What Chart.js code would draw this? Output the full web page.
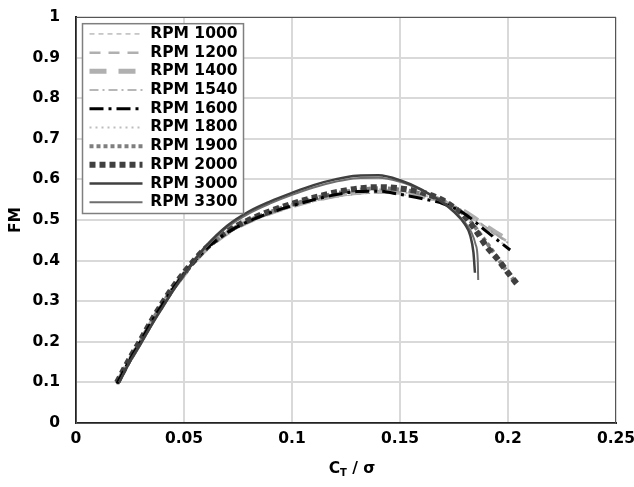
<!DOCTYPE html>
<html>
<head>
<meta charset="utf-8">
<script src="https://cdn.jsdelivr.net/npm/chart.js@4.4.1/dist/chart.umd.min.js"></script>
<style>
    html, body { margin: 0; padding: 0; background: #fff; }
    #wrap { width: 634px; height: 487px; }
</style>
</head>
<body>
<div id="wrap"><canvas id="chartFM" width="634" height="487"></canvas></div>
<script>
// valores (CT/sigma x FM)
const rpmLabels = ['RPM 1000', 'RPM 1200', 'RPM 1400', 'RPM 1540', 'RPM 1600', 'RPM 1800', 'RPM 1900', 'RPM 2000', 'RPM 3000', 'RPM 3300'];

const ctLow = [0.019, 0.025, 0.03, 0.035, 0.04, 0.045, 0.05, 0.055, 0.06, 0.07, 0.08, 0.09, 0.1, 0.11, 0.12, 0.13, 0.14, 0.15, 0.16, 0.17, 0.18, 0.19, 0.2];
const fm1000 = [0.095, 0.153, 0.198, 0.245, 0.288, 0.328, 0.363, 0.396, 0.424, 0.465, 0.493, 0.514, 0.531, 0.545, 0.556, 0.563, 0.566, 0.563, 0.555, 0.540, 0.515, 0.478, 0.443];
const fm1200 = [0.096, 0.155, 0.2, 0.247, 0.29, 0.33, 0.365, 0.398, 0.426, 0.467, 0.495, 0.516, 0.533, 0.547, 0.558, 0.565, 0.568, 0.565, 0.557, 0.542, 0.517, 0.480, 0.446];
const fm1400 = [0.097, 0.156, 0.201, 0.248, 0.291, 0.331, 0.366, 0.399, 0.427, 0.468, 0.497, 0.518, 0.535, 0.549, 0.56, 0.568, 0.571, 0.568, 0.559, 0.544, 0.52, 0.484, 0.45];
const fm1540 = [0.096, 0.155, 0.2, 0.246, 0.289, 0.329, 0.364, 0.397, 0.425, 0.466, 0.494, 0.516, 0.534, 0.549, 0.561, 0.569, 0.572, 0.569, 0.56, 0.545, 0.52, 0.482, 0.444];
const fm1800 = [0.096, 0.156, 0.201, 0.248, 0.291, 0.331, 0.366, 0.399, 0.427, 0.468, 0.497, 0.519, 0.537, 0.552, 0.564, 0.572, 0.575, 0.572, 0.562, 0.546, 0.52, 0.478, 0.43];

const ct1600 = [0.019, 0.025, 0.03, 0.035, 0.04, 0.045, 0.05, 0.055, 0.06, 0.07, 0.08, 0.09, 0.1, 0.11, 0.12, 0.13, 0.14, 0.15, 0.16, 0.17, 0.18, 0.19, 0.201];
const fm1600 = [0.097, 0.157, 0.202, 0.249, 0.292, 0.332, 0.367, 0.4, 0.428, 0.469, 0.497, 0.518, 0.535, 0.55, 0.562, 0.57, 0.571, 0.563, 0.553, 0.54, 0.515, 0.472, 0.426];

const ct1900 = [0.019, 0.025, 0.03, 0.035, 0.04, 0.045, 0.05, 0.055, 0.06, 0.07, 0.08, 0.09, 0.1, 0.11, 0.12, 0.13, 0.14, 0.15, 0.16, 0.17, 0.18, 0.19, 0.2, 0.203];
const fm1900 = [0.098, 0.158, 0.203, 0.25, 0.293, 0.333, 0.368, 0.4, 0.428, 0.47, 0.498, 0.52, 0.538, 0.553, 0.565, 0.574, 0.578, 0.575, 0.565, 0.547, 0.512, 0.445, 0.37, 0.35];

const ct2000 = [0.019, 0.025, 0.03, 0.035, 0.04, 0.045, 0.05, 0.055, 0.06, 0.07, 0.08, 0.09, 0.1, 0.11, 0.12, 0.13, 0.14, 0.15, 0.16, 0.17, 0.175, 0.18, 0.185, 0.19, 0.195, 0.2, 0.205];
const fm2000 = [0.1, 0.16, 0.205, 0.252, 0.295, 0.335, 0.37, 0.402, 0.43, 0.472, 0.5, 0.522, 0.54, 0.555, 0.568, 0.577, 0.581, 0.578, 0.568, 0.548, 0.53, 0.508, 0.475, 0.435, 0.405, 0.37, 0.337];

const ct3000 = [0.02, 0.025, 0.03, 0.035, 0.04, 0.045, 0.05, 0.055, 0.06, 0.07, 0.08, 0.09, 0.1, 0.11, 0.12, 0.13, 0.14, 0.15, 0.16, 0.17, 0.175, 0.18, 0.1825, 0.184, 0.1847];
const fm3000 = [0.1, 0.152, 0.196, 0.242, 0.285, 0.327, 0.366, 0.402, 0.435, 0.486, 0.521, 0.546, 0.567, 0.586, 0.6, 0.609, 0.61, 0.598, 0.575, 0.542, 0.52, 0.49, 0.462, 0.42, 0.37];

const ct3300 = [0.02, 0.025, 0.03, 0.035, 0.04, 0.045, 0.05, 0.055, 0.06, 0.07, 0.08, 0.09, 0.1, 0.11, 0.12, 0.13, 0.14, 0.15, 0.16, 0.17, 0.175, 0.18, 0.183, 0.185, 0.186, 0.1862];
const fm3300 = [0.1, 0.15, 0.194, 0.24, 0.283, 0.325, 0.364, 0.4, 0.432, 0.482, 0.516, 0.541, 0.562, 0.58, 0.594, 0.603, 0.604, 0.594, 0.573, 0.543, 0.522, 0.494, 0.47, 0.44, 0.4, 0.352];

const xTicks = [0, 0.05, 0.1, 0.15, 0.2, 0.25];
const yTicks = [0, 0.1, 0.2, 0.3, 0.4, 0.5, 0.6, 0.7, 0.8, 0.9, 1];

const fonte = 'DejaVu Sans';

const pontos = (xs, ys) => xs.map((x, i) => ({ x: x, y: ys[i] }));

const serie = (label, xs, ys, cor, largura, traco, ordem) => ({
    label: label,
    data: pontos(xs, ys),
    borderColor: cor,
    backgroundColor: cor,
    borderWidth: largura,
    borderDash: traco,
    showLine: true,
    pointRadius: 0,
    pointHoverRadius: 0,
    pointStyle: 'line',
    cubicInterpolationMode: 'monotone',
    order: ordem
});

const datasets = [
    serie(rpmLabels[0], ctLow, fm1000, '#9a9a9a', 1, [5, 4], 8),
    serie(rpmLabels[1], ctLow, fm1200, '#b0b0b0', 2.5, [11, 8], 7),
    serie(rpmLabels[2], ctLow, fm1400, '#b0b0b0', 5, [17, 12], 9),
    serie(rpmLabels[3], ctLow, fm1540, '#a0a0a0', 1.5, [9, 4, 2, 4], 6),
    serie(rpmLabels[4], ct1600, fm1600, '#000000', 3, [14, 5, 3, 5], 2),
    serie(rpmLabels[5], ctLow, fm1800, '#bdbdbd', 2, [2, 4], 5),
    serie(rpmLabels[6], ct1900, fm1900, '#7f7f7f', 4, [4, 3], 4),
    serie(rpmLabels[7], ct2000, fm2000, '#404040', 6, [6, 4], 3),
    serie(rpmLabels[8], ct3000, fm3000, '#404040', 2.5, [], 0),
    serie(rpmLabels[9], ct3300, fm3300, '#6e6e6e', 2, [], 1)
];

// legenda com o traco de cada serie
const gerarLegenda = (chart) => {
    const itens = Chart.defaults.plugins.legend.labels.generateLabels(chart);
    return itens.map(item => {
        const ds = chart.data.datasets[item.datasetIndex];
        item.lineDash = ds.borderDash;
        item.lineWidth = ds.borderWidth;
        item.strokeStyle = ds.borderColor;
        item.fillStyle = ds.borderColor;
        item.pointStyle = 'line';
        item.lineCap = 'butt';
        return item;
    });
};

// caixa branca com borda atras da legenda + borda da area do grafico
const pluginMoldura = {
    id: 'moldura',
    afterLayout(chart) {
        const leg = chart.legend;
        leg.left = chart.chartArea.left + 10.3;
        leg.top = chart.chartArea.top + 6;
    },
    afterDatasetsDraw(chart) {
        const { ctx, chartArea } = chart;
        ctx.save();
        ctx.strokeStyle = '#555';
        ctx.lineWidth = 1;
        ctx.strokeRect(chartArea.left + 0.5, chartArea.top + 0.5, chartArea.right - chartArea.left - 1, chartArea.bottom - chartArea.top);

        const boxes = chart.legend.legendHitBoxes;
        if (boxes && boxes.length) {
            const x0 = Math.min(...boxes.map(b => b.left)) - 7;
            const y0 = Math.min(...boxes.map(b => b.top)) - 2.5;
            const x1 = Math.max(...boxes.map(b => b.left + b.width)) + 6;
            const y1 = Math.max(...boxes.map(b => b.top + b.height)) + 3.5;
            ctx.fillStyle = '#fff';
            ctx.fillRect(x0, y0, x1 - x0, y1 - y0);
            ctx.strokeStyle = '#7f7f7f';
            ctx.lineWidth = 1.5;
            ctx.strokeRect(x0, y0, x1 - x0, y1 - y0);
        }
        ctx.restore();
        chart.legend.draw();
    },
    afterDraw(chart) {
        const { ctx, chartArea } = chart;
        ctx.save();
        ctx.fillStyle = '#000';
        // titulo eixo y
        ctx.font = `bold 15.5px "${fonte}"`;
        ctx.textAlign = 'center';
        ctx.textBaseline = 'middle';
        ctx.translate(16, (chartArea.top + chartArea.bottom) / 2);
        ctx.rotate(-Math.PI / 2);
        ctx.fillText('FM', 0, 0);
        ctx.restore();

        // titulo eixo x: C com subscrito T / sigma
        ctx.save();
        ctx.fillStyle = '#000';
        ctx.textBaseline = 'alphabetic';
        ctx.textAlign = 'left';
        const fGrande = `bold 15.5px "${fonte}"`;
        const fPequena = `bold 10px "${fonte}"`;
        ctx.font = fGrande;
        const wC = ctx.measureText('C').width;
        const wResto = ctx.measureText(' / σ').width;
        ctx.font = fPequena;
        const wT = ctx.measureText('T').width;
        const total = wC + wT + wResto;
        let x = (chartArea.left + chartArea.right) / 2 + 6 - total / 2;
        const base = 473;
        ctx.font = fGrande;
        ctx.fillText('C', x, base);
        x += wC;
        ctx.font = fPequena;
        ctx.fillText('T', x, base + 3);
        x += wT;
        ctx.font = fGrande;
        ctx.fillText(' / σ', x, base);
        ctx.restore();
    }
};

const ctx = document.getElementById('chartFM');
new Chart(ctx, {
    type: 'scatter',
    data: { datasets: datasets },
    options: {
        responsive: false,
        animation: false,
        layout: { padding: { left: 0, top: 17, right: 18, bottom: 0 } },
        plugins: {
            tooltip: { enabled: false },
            legend: {
                position: 'chartArea',
                align: 'start',
                labels: {
                    usePointStyle: true,
                    pointStyleWidth: 53,
                    padding: 3.2,
                    color: '#000',
                    font: { family: fonte, size: 15.5, weight: 'bold' },
                    generateLabels: gerarLegenda,
                    sort: (a, b) => a.datasetIndex - b.datasetIndex
                }
            }
        },
        scales: {
            x: {
                type: 'linear',
                min: xTicks[0],
                max: xTicks[xTicks.length - 1],
                afterBuildTicks: (s) => { s.ticks = xTicks.map(v => ({ value: v })); },
                afterFit: (s) => { s.height = 64; s.paddingLeft = 0; s.paddingRight = 0; },
                ticks: {
                    padding: 7,
                    color: '#000',
                    font: { family: fonte, size: 15.5, weight: 'bold' },
                    maxRotation: 0,
                    callback: (v) => String(+v.toFixed(2))
                },
                grid: { color: '#d9d9d9', lineWidth: 2, drawTicks: false },
                border: { color: '#222', width: 2 }
            },
            y: {
                type: 'linear',
                min: yTicks[0],
                max: yTicks[yTicks.length - 1],
                afterBuildTicks: (s) => { s.ticks = yTicks.map(v => ({ value: v })); },
                afterFit: (s) => { s.width = 76; s.paddingTop = 0; s.paddingBottom = 0; },
                ticks: {
                    padding: 16,
                    color: '#000',
                    font: { family: fonte, size: 15.5, weight: 'bold' },
                    callback: (v) => String(+v.toFixed(1))
                },
                grid: { color: '#d9d9d9', lineWidth: 2, drawTicks: false },
                border: { color: '#222', width: 2 }
            }
        }
    },
    plugins: [pluginMoldura]
});
</script>
</body>
</html>
